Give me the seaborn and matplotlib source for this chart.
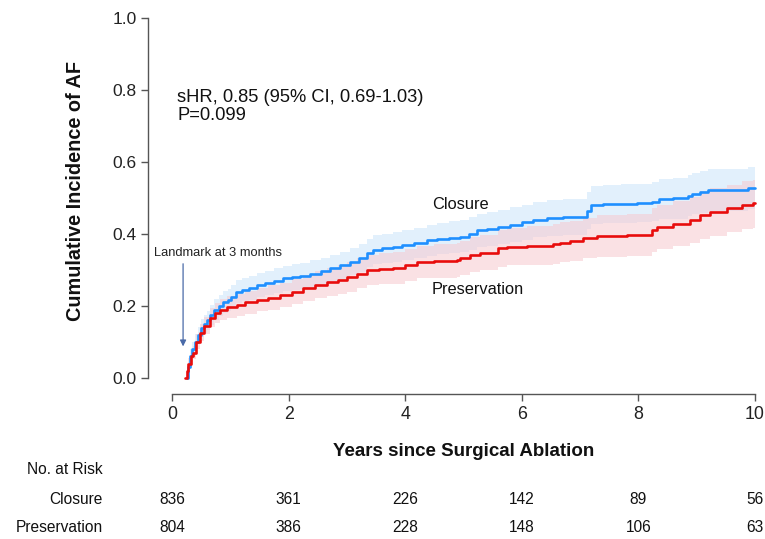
import numpy as np
import pandas as pd
import matplotlib
matplotlib.use("Agg")
import matplotlib.pyplot as plt
from matplotlib import font_manager
from matplotlib.transforms import blended_transform_factory
import seaborn as sns

# ---------------- data ----------------
closure_t = [0.25, 0.28, 0.31, 0.35, 0.40, 0.45, 0.50, 0.55, 0.60, 0.66, 0.72, 0.80, 0.88, 0.96,
             1.02, 1.10, 1.20, 1.32, 1.46, 1.60, 1.75, 1.90, 2.05, 2.20, 2.37, 2.55, 2.71, 2.88,
             3.05, 3.20, 3.34, 3.45, 3.60, 3.79, 3.95, 4.15, 4.37, 4.55, 4.75, 4.94, 5.10, 5.23,
             5.40, 5.60, 5.80, 6.00, 6.20, 6.43, 6.70, 7.12, 7.18, 7.40, 7.70, 7.98, 8.23, 8.35,
             8.60, 8.85, 8.92, 9.05, 9.20, 9.50, 9.88, 10.0]
closure_v = [0.000, 0.030, 0.060, 0.080, 0.100, 0.120, 0.140, 0.150, 0.160, 0.175, 0.190, 0.200, 0.210, 0.217,
             0.225, 0.240, 0.245, 0.250, 0.258, 0.264, 0.270, 0.277, 0.280, 0.283, 0.290, 0.297, 0.305, 0.313,
             0.323, 0.333, 0.347, 0.356, 0.360, 0.364, 0.369, 0.375, 0.383, 0.387, 0.390, 0.393, 0.401, 0.410,
             0.414, 0.420, 0.426, 0.432, 0.440, 0.445, 0.447, 0.464, 0.480, 0.482, 0.484, 0.486, 0.490, 0.497,
             0.499, 0.506, 0.512, 0.516, 0.522, 0.522, 0.528, 0.528]
closure_lo = [0.000, 0.020, 0.045, 0.062, 0.080, 0.098, 0.115, 0.125, 0.134, 0.148, 0.162, 0.171, 0.180, 0.187,
              0.194, 0.208, 0.213, 0.218, 0.225, 0.230, 0.236, 0.242, 0.245, 0.248, 0.254, 0.260, 0.268, 0.275,
              0.285, 0.294, 0.307, 0.316, 0.319, 0.323, 0.327, 0.333, 0.340, 0.344, 0.346, 0.349, 0.356, 0.364,
              0.368, 0.373, 0.378, 0.384, 0.391, 0.395, 0.397, 0.413, 0.428, 0.430, 0.431, 0.433, 0.436, 0.442,
              0.443, 0.449, 0.455, 0.458, 0.464, 0.464, 0.469, 0.469]
closure_hi = [0.000, 0.045, 0.080, 0.100, 0.122, 0.143, 0.165, 0.176, 0.187, 0.203, 0.219, 0.230, 0.241, 0.248,
              0.257, 0.273, 0.278, 0.283, 0.292, 0.298, 0.305, 0.312, 0.316, 0.319, 0.327, 0.334, 0.343, 0.351,
              0.362, 0.372, 0.387, 0.397, 0.401, 0.406, 0.411, 0.418, 0.426, 0.431, 0.435, 0.438, 0.447, 0.456,
              0.461, 0.467, 0.474, 0.481, 0.489, 0.495, 0.498, 0.516, 0.533, 0.535, 0.538, 0.540, 0.545, 0.553,
              0.555, 0.563, 0.570, 0.574, 0.581, 0.581, 0.587, 0.587]

preserv_t = [0.22, 0.25, 0.28, 0.32, 0.36, 0.42, 0.48, 0.55, 0.65, 0.73, 0.82, 0.95, 1.11, 1.25,
             1.46, 1.65, 1.85, 2.05, 2.25, 2.45, 2.66, 2.85, 3.00, 3.17, 3.34, 3.55, 3.79, 4.00,
             4.20, 4.50, 4.89, 4.94, 5.11, 5.28, 5.59, 5.75, 6.09, 6.54, 6.65, 6.83, 7.05, 7.29,
             7.80, 8.23, 8.32, 8.60, 8.88, 9.06, 9.23, 9.52, 9.78, 9.97, 10.0]
preserv_v = [0.000, 0.020, 0.040, 0.060, 0.070, 0.100, 0.125, 0.145, 0.167, 0.180, 0.190, 0.197, 0.203, 0.210,
             0.217, 0.223, 0.230, 0.240, 0.250, 0.258, 0.267, 0.273, 0.280, 0.290, 0.300, 0.303, 0.305, 0.313,
             0.322, 0.325, 0.327, 0.333, 0.342, 0.348, 0.360, 0.365, 0.368, 0.372, 0.376, 0.381, 0.388, 0.394,
             0.397, 0.411, 0.419, 0.428, 0.439, 0.453, 0.462, 0.471, 0.481, 0.485, 0.485]
preserv_lo = [0.000, 0.012, 0.028, 0.045, 0.054, 0.080, 0.103, 0.121, 0.141, 0.153, 0.162, 0.168, 0.173, 0.179,
              0.185, 0.190, 0.196, 0.205, 0.214, 0.221, 0.229, 0.234, 0.240, 0.249, 0.258, 0.260, 0.262, 0.269,
              0.277, 0.279, 0.281, 0.286, 0.294, 0.299, 0.309, 0.313, 0.315, 0.318, 0.321, 0.326, 0.332, 0.337,
              0.339, 0.351, 0.358, 0.366, 0.375, 0.387, 0.395, 0.405, 0.413, 0.418, 0.418]
preserv_hi = [0.000, 0.032, 0.055, 0.078, 0.089, 0.122, 0.149, 0.170, 0.194, 0.208, 0.219, 0.227, 0.234, 0.242,
              0.250, 0.257, 0.265, 0.276, 0.287, 0.296, 0.306, 0.313, 0.321, 0.332, 0.343, 0.347, 0.349, 0.358,
              0.368, 0.372, 0.374, 0.381, 0.391, 0.398, 0.412, 0.418, 0.422, 0.427, 0.432, 0.437, 0.445, 0.452,
              0.456, 0.472, 0.481, 0.491, 0.504, 0.519, 0.529, 0.537, 0.546, 0.550, 0.550]

risk_times = [0, 2, 4, 6, 8, 10]
risk_closure = [836, 361, 226, 142, 89, 56]
risk_preserv = [804, 386, 228, 148, 106, 63]

x_ticks = [0, 2, 4, 6, 8, 10]
y_ticks = [0.0, 0.2, 0.4, 0.6, 0.8, 1.0]
y_ticklabels = ["0.0", "0.2", "0.4", "0.6", "0.8", "1.0"]

# ---------------- style ----------------
sns.set_style("white")
names = {f.name for f in font_manager.fontManager.ttflist}
has_narrow = "Liberation Sans Narrow" in names
narrow = "Liberation Sans Narrow" if has_narrow else "Liberation Sans"
plt.rcParams["font.family"] = ["Liberation Sans", "DejaVu Sans"]

BLUE = "#1f8fff"
RED = "#e80c0c"
BLUE_BAND = "#cfe6fb"
RED_BAND = "#f7c9cf"

fig = plt.figure(figsize=(7.65, 5.39), dpi=100)
ax = fig.add_axes([172 / 765, 1 - 378 / 539, 583 / 765, 360 / 539])

# confidence bands
ax.fill_between(closure_t, closure_lo, closure_hi, step="post", color=BLUE_BAND, alpha=0.6, lw=0)
ax.fill_between(preserv_t, preserv_lo, preserv_hi, step="post", color=RED_BAND, alpha=0.55, lw=0)

df_c = pd.DataFrame({"t": closure_t, "v": closure_v})
df_p = pd.DataFrame({"t": preserv_t, "v": preserv_v})
sns.lineplot(data=df_c, x="t", y="v", ax=ax, color=BLUE, lw=1.9, drawstyle="steps-post",
             estimator=None, sort=False, clip_on=False)
sns.lineplot(data=df_p, x="t", y="v", ax=ax, color=RED, lw=1.9, drawstyle="steps-post",
             estimator=None, sort=False, clip_on=False)

ax.set_xlim(0, 10)
ax.set_ylim(0, 1)
ax.set_xticks(x_ticks)
ax.set_xticklabels([str(x) for x in x_ticks])
ax.set_yticks(y_ticks)
ax.set_yticklabels(y_ticklabels)

for s in ["top", "right"]:
    ax.spines[s].set_visible(False)
ax.spines["left"].set_position(("outward", 17.3))
ax.spines["bottom"].set_position(("outward", 11.5))
ax.spines["left"].set_bounds(0, 1)
ax.spines["bottom"].set_bounds(0, 10)
for s in ["left", "bottom"]:
    ax.spines[s].set_color("#555555")
    ax.spines[s].set_linewidth(1.0)
ax.tick_params(axis="both", direction="out", length=5, width=1.0, color="#555555",
               labelcolor="#222222", left=True, bottom=True)
ax.tick_params(axis="y", pad=3, labelsize=12.5)
ax.tick_params(axis="x", pad=4, labelsize=13 if has_narrow else 12.8, labelfontfamily=narrow)

ax.set_ylabel("Cumulative Incidence of AF", fontsize=14.3, fontweight="bold", color="#111111")
ax.yaxis.set_label_coords(-0.166, 0.52)
ax.yaxis.label.set_va("center")
ax.set_xlabel("Years since Surgical Ablation", fontsize=13.5, fontweight="bold",
              color="#111111", fontfamily=narrow)
ax.xaxis.set_label_coords(0.5, -0.203)
ax.xaxis.label.set_va("center")

# annotations
ax.text(0.09, 0.754, "sHR, 0.85 (95% CI, 0.69-1.03)\nP=0.099", fontsize=13.2, va="center", ha="left",
        color="#111111", linespacing=1.05)
ax.text(4.46, 0.481, "Closure", fontsize=11.8, va="center", ha="left", color="#111111")
ax.text(4.46, 0.247, "Preservation", fontsize=11.8, va="center", ha="left", color="#111111")
ax.text(0.79, 0.347, "Landmark at 3 months", fontsize=9.3, va="center", ha="center", color="#222222")
ax.annotate("", xy=(0.19, 0.08), xytext=(0.19, 0.325),
            arrowprops=dict(arrowstyle="-|>", color="#4a6aa8", lw=0.9, mutation_scale=9),
            annotation_clip=False)

# risk table
tr = blended_transform_factory(ax.transData, fig.transFigure)
fs_r = 12.4 if has_narrow else 11.2
fig.text(103 / 765, 1 - 470 / 539, "No. at Risk", ha="right", va="center", fontsize=fs_r,
         fontfamily=narrow, color="#111111")
fig.text(103 / 765, 1 - 500 / 539, "Closure", ha="right", va="center", fontsize=fs_r,
         fontfamily=narrow, color="#111111")
fig.text(103 / 765, 1 - 527 / 539, "Preservation", ha="right", va="center", fontsize=fs_r,
         fontfamily=narrow, color="#111111")
for t, c, p in zip(risk_times, risk_closure, risk_preserv):
    ax.text(t, 1 - 500 / 539, str(c), transform=tr, ha="center", va="center", fontsize=fs_r,
            fontfamily=narrow, color="#111111", clip_on=False)
    ax.text(t, 1 - 527 / 539, str(p), transform=tr, ha="center", va="center", fontsize=fs_r,
            fontfamily=narrow, color="#111111", clip_on=False)

fig.savefig("out.png", dpi=100)
